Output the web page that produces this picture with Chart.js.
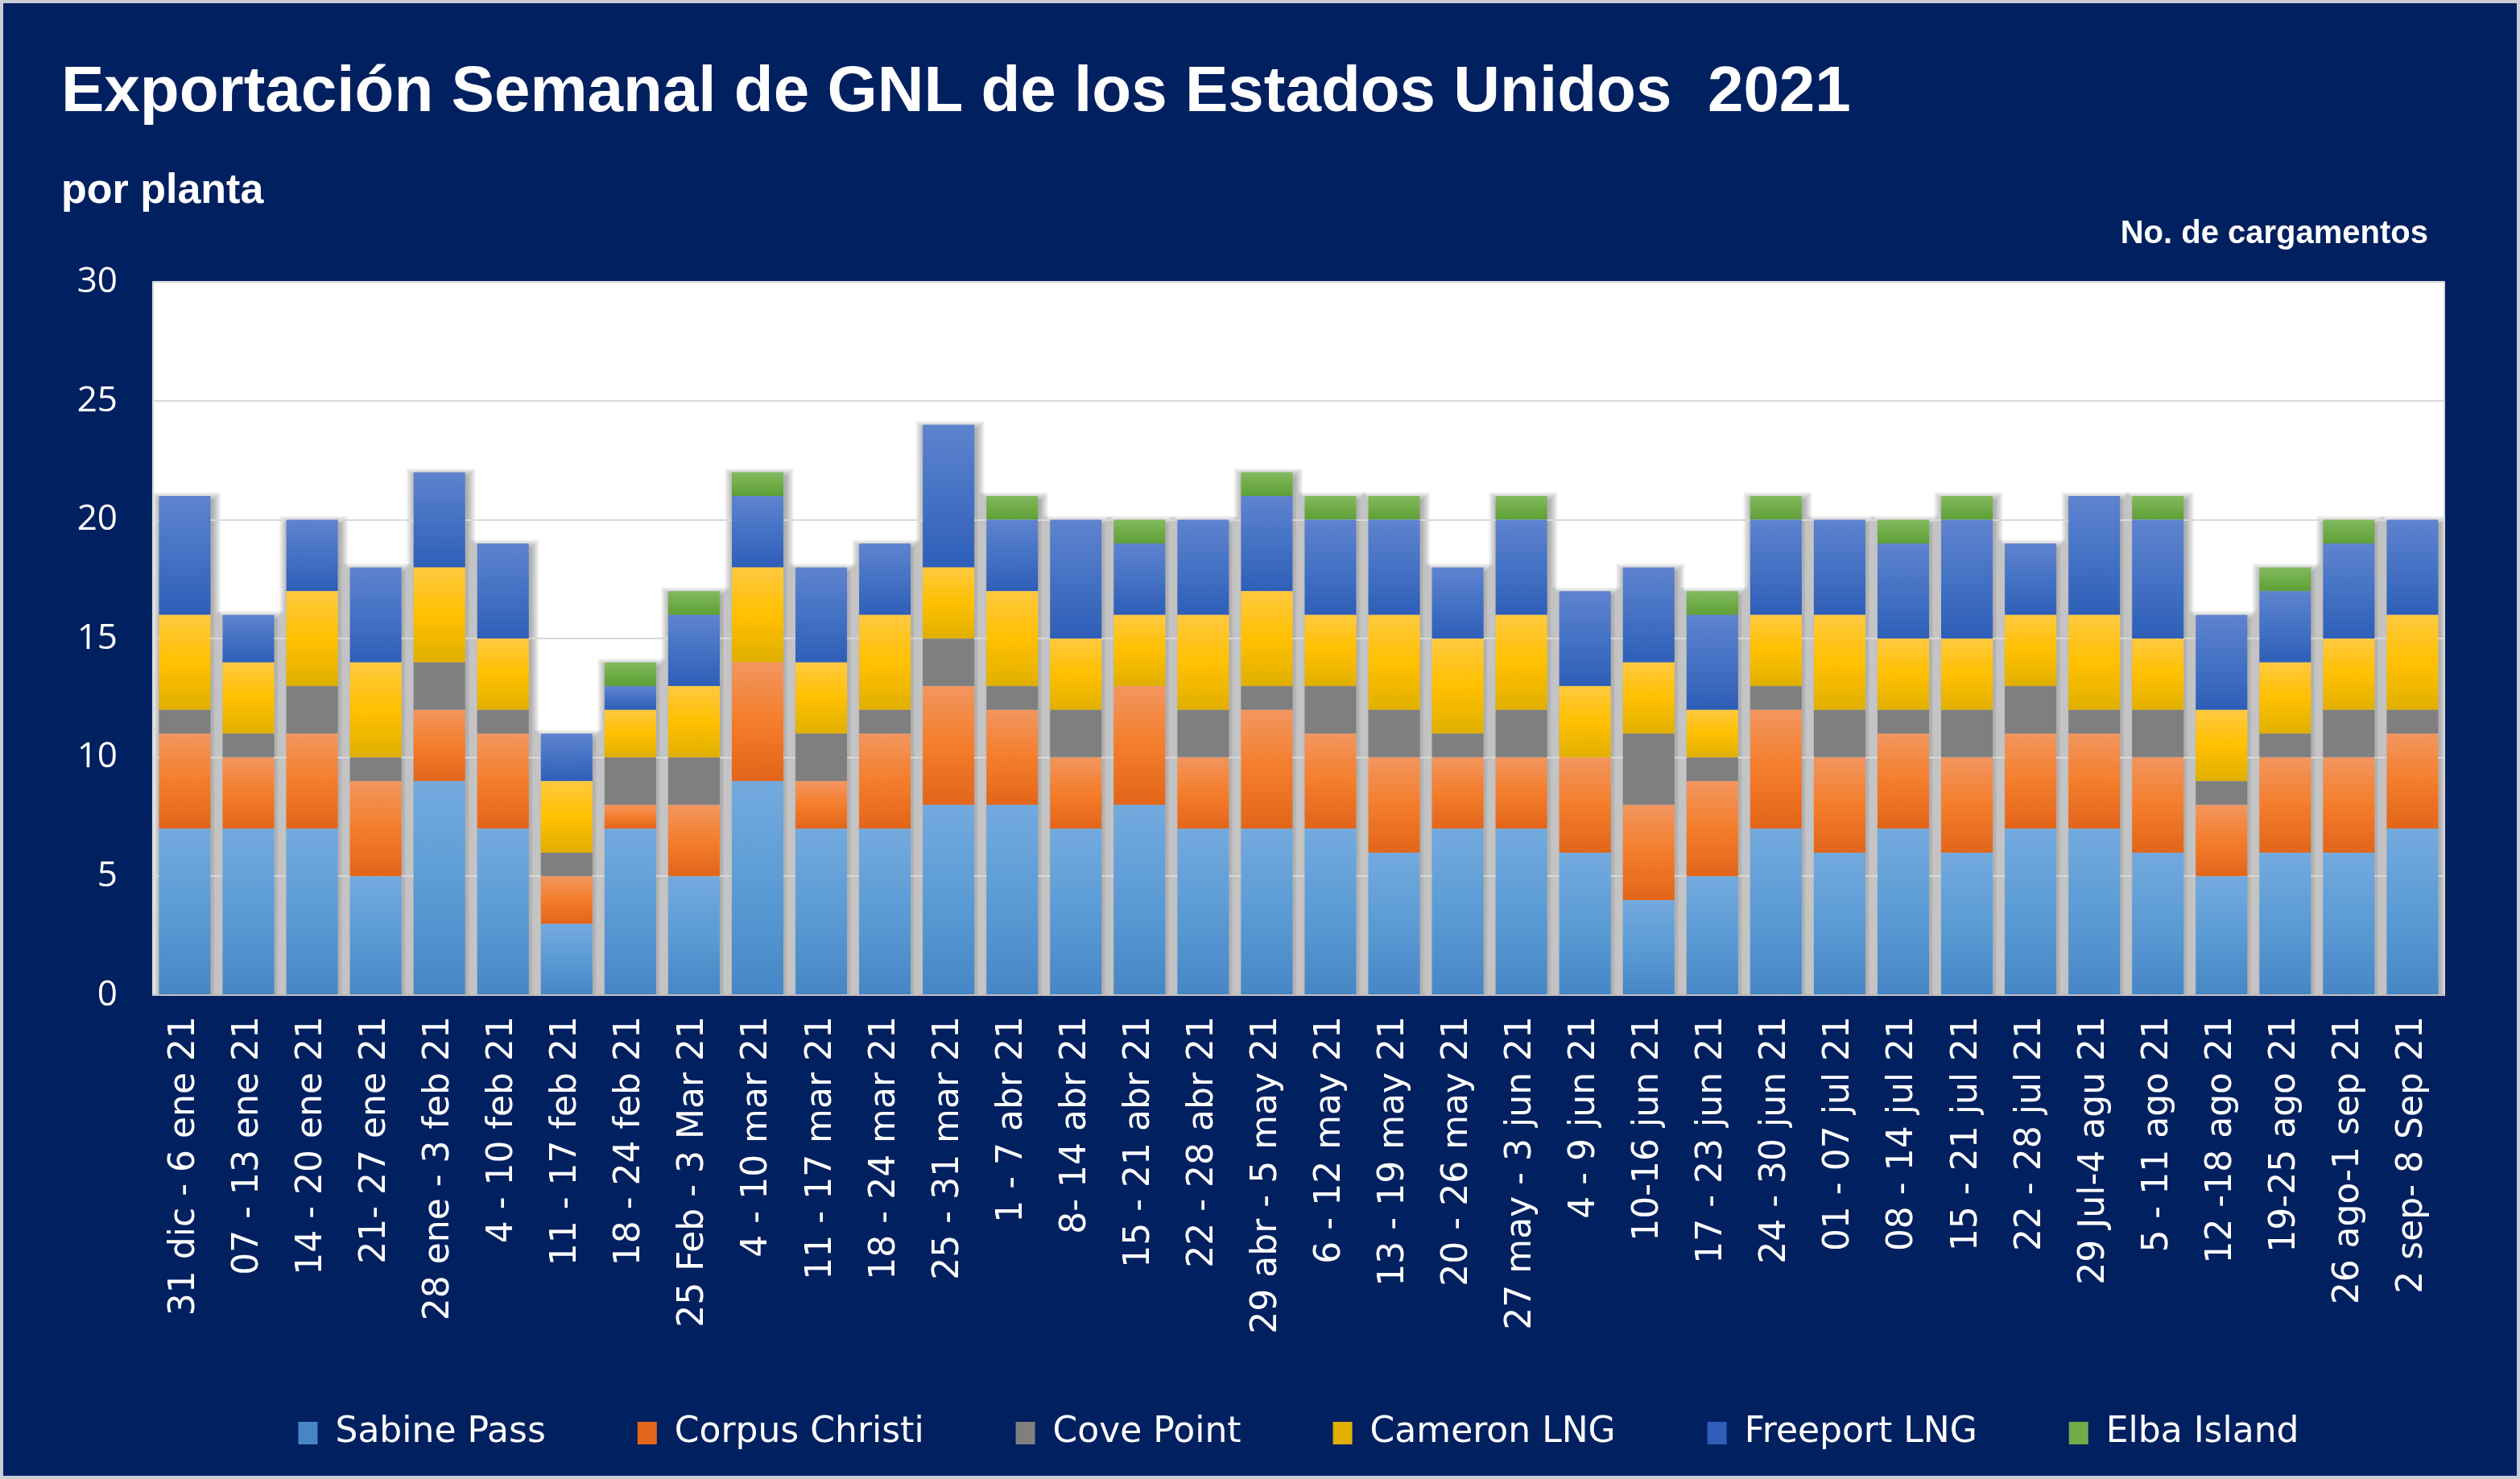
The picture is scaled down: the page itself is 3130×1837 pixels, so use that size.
<!DOCTYPE html>
<html>
<head>
<meta charset="utf-8">
<script src="https://cdn.jsdelivr.net/npm/chart.js@4.4.0/dist/chart.umd.min.js"></script>
<style>
  html, body { margin: 0; padding: 0; background: #002060; }
  #wrap { width: 3130px; height: 1837px; }
</style>
</head>
<body>
<div id="wrap"><canvas id="lngChart" width="3130" height="1837"></canvas></div>
<script>
// semanas (etiquetas del eje x)
var categories = [
  '31 dic - 6 ene 21', '07 - 13 ene 21', '14 - 20 ene 21', '21- 27 ene 21',
  '28 ene - 3 feb 21', '4 - 10 feb 21', '11 - 17 feb 21', '18 - 24 feb 21',
  '25 Feb - 3 Mar 21', '4 - 10 mar 21', '11 - 17 mar 21', '18 - 24 mar 21',
  '25 - 31 mar 21', '1 - 7 abr 21', '8- 14 abr 21', '15 - 21 abr 21',
  '22 - 28 abr 21', '29 abr - 5 may 21', '6 - 12 may 21', '13 - 19 may 21',
  '20 - 26 may 21', '27 may - 3 jun 21', '4 - 9 jun 21', '10-16 jun 21',
  '17 - 23 jun 21', '24 - 30 jun 21', '01 - 07 jul 21', '08 - 14 jul 21',
  '15 - 21 jul 21', '22 - 28 jul 21', '29 Jul-4 agu 21', '5 - 11 ago 21',
  '12 -18 ago 21', '19-25 ago 21', '26 ago-1 sep 21', '2 sep- 8 Sep 21'
];

// cargamentos por planta
var sabinePass    = [7,7,7,5,9,7,3,7,5,9,7,7,8,8,7,8,7,7,7,6,7,7,6,4,5,7,6,7,6,7,7,6,5,6,6,7];
var corpusChristi = [4,3,4,4,3,4,2,1,3,5,2,4,5,4,3,5,3,5,4,4,3,3,4,4,4,5,4,4,4,4,4,4,3,4,4,4];
var covePoint     = [1,1,2,1,2,1,1,2,2,0,2,1,2,1,2,0,2,1,2,2,1,2,0,3,1,1,2,1,2,2,1,2,1,1,2,1];
var cameronLng    = [4,3,4,4,4,3,3,2,3,4,3,4,3,4,3,3,4,4,3,4,4,4,3,3,2,3,4,3,3,3,4,3,3,3,3,4];
var freeportLng   = [5,2,3,4,4,4,2,1,3,3,4,3,6,3,5,3,4,4,4,4,3,4,4,4,4,4,4,4,5,3,5,5,4,3,4,4];
var elbaIsland    = [0,0,0,0,0,0,0,1,1,1,0,0,0,1,0,1,0,1,1,1,0,1,0,0,1,1,0,1,1,0,0,1,0,1,1,0];

var seriesNames = ['Sabine Pass', 'Corpus Christi', 'Cove Point', 'Cameron LNG', 'Freeport LNG', 'Elba Island'];
var yTicks = [0, 5, 10, 15, 20, 25, 30];

var series = [sabinePass, corpusChristi, covePoint, cameronLng, freeportLng, elbaIsland];

// colores degradados (arriba, medio, abajo)
var palette = [
  ['#73AADE', '#5B9BD5', '#4686C6'],
  ['#F2965F', '#F47D2B', '#E2651A'],
  ['#7F7F7F', '#7F7F7F', '#7F7F7F'],
  ['#FFC940', '#FFC000', '#E0AF00'],
  ['#5F83CF', '#4472C4', '#2E5EB7'],
  ['#82BA60', '#70AD47', '#5E9E38']
];

function segmentColor(di) {
  return function(context) {
    var cols = palette[di];
    if (context.type !== 'data') return cols[1];
    var chart = context.chart;
    var yScale = chart.scales.y;
    if (!chart.chartArea || !yScale) return cols[1];
    var i = context.dataIndex;
    var start = 0;
    for (var k = 0; k < di; k++) start += series[k][i];
    var end = start + series[di][i];
    var top = yScale.getPixelForValue(end);
    var bot = yScale.getPixelForValue(start);
    if (!isFinite(top) || !isFinite(bot) || top === bot) return cols[1];
    var g = chart.ctx.createLinearGradient(0, top, 0, bot);
    g.addColorStop(0, cols[0]);
    g.addColorStop(0.5, cols[1]);
    g.addColorStop(1, cols[2]);
    return g;
  };
}

var datasets = series.map(function(values, di) {
  return {
    label: seriesNames[di],
    data: values,
    backgroundColor: segmentColor(di),
    borderWidth: 0,
    barPercentage: 0.81,
    categoryPercentage: 1.0
  };
});

// fondo, area blanca, marco y sombra suave de cada columna
var backdrop = {
  id: 'backdrop',
  beforeDraw: function(chart) {
    var c = chart.ctx, a = chart.chartArea;
    c.save();
    c.fillStyle = '#002060';
    c.fillRect(0, 0, chart.width, chart.height);
    c.strokeStyle = '#C9CDD6';
    c.lineWidth = 4;
    c.strokeRect(2, 2, chart.width - 4, chart.height - 4);
    c.fillStyle = '#FFFFFF';
    c.fillRect(a.left, a.top, a.right - a.left, a.bottom - a.top);

    c.beginPath();
    c.rect(a.left, a.top, a.right - a.left, a.bottom - a.top);
    c.clip();
    var base = chart.getDatasetMeta(0).data;
    c.fillStyle = 'rgba(0,0,0,0.03)';
    for (var i = 0; i < base.length; i++) {
      var el = base[i];
      var topY = el.y;
      for (var d = 1; d < series.length; d++) {
        if (series[d][i] > 0) topY = Math.min(topY, chart.getDatasetMeta(d).data[i].y);
      }
      var left = el.x - el.width / 2;
      for (var s = 1; s <= 11; s++) {
        c.fillRect(left - s + 2, topY - s + 6, el.width + 2 * s, el.base - topY + 2 * s);
      }
    }
    c.restore();

    c.save();
    c.strokeStyle = '#D9D9D9';
    c.lineWidth = 2;
    c.strokeRect(a.left, a.top, a.right - a.left, a.bottom - a.top);
    c.restore();
  }
};

// texto de unidades, centrado de la leyenda y espacio para etiquetas largas
var extras = {
  id: 'extras',
  afterLayout: function(chart) {
    var lg = chart.legend, a = chart.chartArea;
    var shift = (a.left + a.right) / 2 - (lg.left + lg.right) / 2;
    lg.left += shift;
    lg.right += shift;
    chart.scales.x.bottom += 90;
  },
  afterDraw: function(chart) {
    var c = chart.ctx;
    c.save();
    c.fillStyle = '#FFFFFF';
    c.font = 'bold 40px "Liberation Sans", Arial, sans-serif';
    c.textAlign = 'right';
    c.textBaseline = 'alphabetic';
    c.fillText('No. de cargamentos', 3016, 302);
    c.restore();
  }
};

var ctx = document.getElementById('lngChart').getContext('2d');
var chart = new Chart(ctx, {
  type: 'bar',
  data: {
    labels: categories,
    datasets: datasets
  },
  plugins: [backdrop, extras],
  options: {
    responsive: false,
    devicePixelRatio: 1,
    animation: false,
    layout: {
      padding: { left: 76, right: 94, top: 0, bottom: 25 }
    },
    plugins: {
      title: {
        display: true,
        text: 'Exportación Semanal de GNL de los Estados Unidos  2021',
        align: 'start',
        color: '#FFFFFF',
        font: { family: '"Liberation Sans", Arial, sans-serif', weight: 'bold', size: 80 },
        padding: { top: 68, bottom: 12 }
      },
      subtitle: {
        display: true,
        text: 'por planta',
        align: 'start',
        color: '#FFFFFF',
        font: { family: '"Liberation Sans", Arial, sans-serif', weight: 'bold', size: 52 },
        padding: { top: 30, bottom: 82 }
      },
      legend: {
        position: 'bottom',
        labels: {
          color: '#FFFFFF',
          font: { family: '"DejaVu Sans", sans-serif', size: 44 },
          boxWidth: 24,
          boxHeight: 28,
          padding: 114
        }
      },
      tooltip: { enabled: false }
    },
    scales: {
      x: {
        stacked: true,
        grid: { display: false },
        border: { display: true, color: '#BFBFBF', width: 2 },
        ticks: {
          color: '#FFFFFF',
          font: { family: '"DejaVu Sans", sans-serif', size: 44 },
          minRotation: 90,
          maxRotation: 90,
          autoSkip: false,
          padding: 18
        },
        afterFit: function(scale) { scale.height = 408; }
      },
      y: {
        stacked: true,
        min: yTicks[0],
        max: yTicks[yTicks.length - 1],
        grid: { color: '#D9D9D9', lineWidth: 2, drawTicks: false },
        border: { display: false },
        ticks: {
          stepSize: yTicks[1] - yTicks[0],
          color: '#FFFFFF',
          font: { family: '"Open Sans", sans-serif', size: 44 },
          padding: 44
        },
        afterFit: function(scale) { scale.width = 114; }
      }
    }
  }
});
</script>
</body>
</html>
